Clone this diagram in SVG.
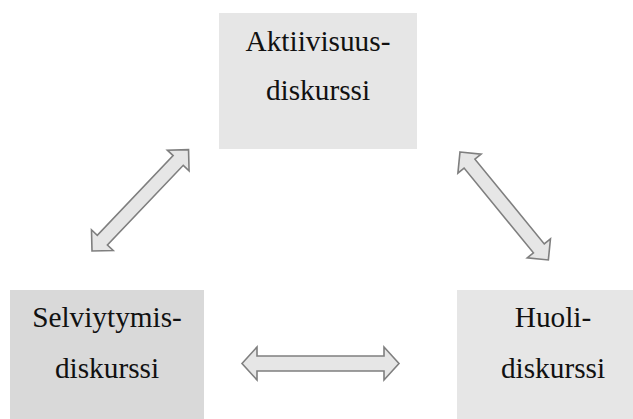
<svg xmlns="http://www.w3.org/2000/svg" width="633" height="419" viewBox="0 0 633 419">
<style>
.box{fill:#e6e6e6;stroke:none}
.box2{fill:#d9d9d9;stroke:none}
.lbl{font-family:"Liberation Serif","Times New Roman",serif;font-size:29.3px;fill:#111;text-anchor:middle}
.arr{fill:#e6e6e6;stroke:#7f7f7f;stroke-width:1.6;stroke-linejoin:miter}
</style>
<rect width="633" height="419" fill="#ffffff"/>
<g id="connectors">
<path class="arr" transform="translate(242,363.5)" d="M0,0 L15,-16.5 L15,-7.5 L142,-7.5 L142,-16.5 L157,0 L142,16.5 L142,7.5 L15,7.5 L15,16.5 Z"/>
<path class="arr" transform="translate(92,251) rotate(-46.4)" d="M0,0 L15,-15 L15,-7 L125,-7 L125,-15 L140,0 L125,15 L125,7 L15,7 L15,15 Z"/>
<path class="arr" transform="translate(460,152) rotate(50.7)" d="M0,0 L15,-15 L15,-7 L124.5,-7 L124.5,-15 L139.5,0 L124.5,15 L124.5,7 L15,7 L15,15 Z"/>
</g>
<g id="aktiivisuus">
<rect class="box" x="219" y="13" width="198" height="136"/>
<text class="lbl" x="318" y="51">Aktiivisuus-</text>
<text class="lbl" x="318" y="100">diskurssi</text>
</g>
<g id="selviytymis">
<rect class="box2" x="10" y="290" width="194" height="129"/>
<text class="lbl" x="107" y="327">Selviytymis-</text>
<text class="lbl" x="107" y="378">diskurssi</text>
</g>
<g id="huoli">
<rect class="box" x="457" y="290" width="194" height="129"/>
<text class="lbl" x="553" y="327">Huoli-</text>
<text class="lbl" x="553" y="378">diskurssi</text>
</g>
</svg>
